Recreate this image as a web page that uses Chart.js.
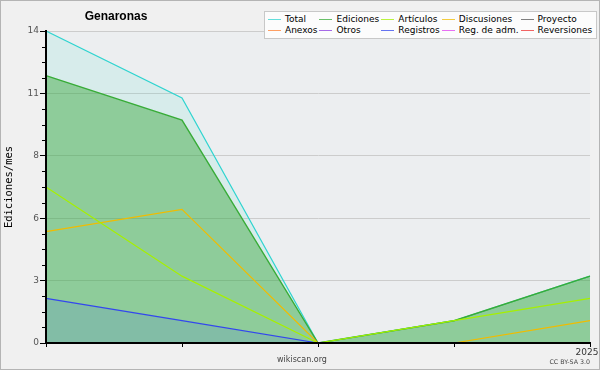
<!DOCTYPE html>
<html><head><meta charset="utf-8">
<script src="https://cdn.jsdelivr.net/npm/chart.js@4.4.1/dist/chart.umd.min.js"></script>
<style>
html,body{margin:0;padding:0;background:#f0f0f0;}
#wrap{position:relative;width:600px;height:370px;background:#f0f0f0;border:1px solid #b4b4b4;box-sizing:border-box;overflow:hidden;}
#c{position:absolute;left:-1px;top:-1px;}
#title{position:absolute;left:65px;top:8px;width:100px;text-align:center;font:bold 12px "Liberation Sans",Arial,sans-serif;line-height:14px;color:#000;}
#legend{position:absolute;left:263px;top:10px;background:#fcfcfc;border:1px solid #c8c8c8;padding:2px 3px 3px 2px;}
#legend table{border-collapse:collapse;}
#legend td{padding:0 1px 0 0;font:9px "DejaVu Sans",sans-serif;line-height:10.5px;color:#000;white-space:nowrap;}
#legend .sw{display:inline-block;width:13px;height:1px;vertical-align:middle;margin:0 4px 0 1px;opacity:0.75;}
#site{position:absolute;left:251px;top:354px;width:100px;text-align:center;font:8px "DejaVu Sans",sans-serif;line-height:10px;color:#444;}
#lic{position:absolute;left:489px;top:357px;width:100px;text-align:right;font:6.3px "DejaVu Sans",sans-serif;line-height:8px;color:#444;}
</style>
</head><body>
<div id="wrap">
<canvas id="c" width="600" height="370"></canvas>
<div id="title">Genaronas</div>
<div id="legend"></div>
<div id="site">wikiscan.org</div>
<div id="lic">CC BY-SA 3.0</div>
</div>
<script>
const categories = ['2024-09','2024-10','2024-11','2024-12','2025-01'];
const xTickLabels = ['','','','','2025'];
const yTicks = [0, 2.8, 5.6, 8.4, 11.2, 14];
const yTickLabels = ['0','3','6','8','11','14'];

const seriesNames = ['Total','Ediciones','Artículos','Discusiones','Proyecto','Anexos','Otros','Registros','Reg. de adm.','Reversiones'];
const total       = [14, 11, 0, 1, 3];
const ediciones   = [12, 10, 0, 1, 3];
const articulos   = [7, 3, 0, 1, 2];
const discusiones = [5, 6, 0, 0, 1];
const proyecto    = [0, 0, 0, 0, 0];
const anexos      = [0, 0, 0, 0, 0];
const otros       = [0, 0, 0, 0, 0];
const registros   = [2, 1, 0, 0, 0];
const regAdm      = [0, 0, 0, 0, 0];
const reversiones = [0, 0, 0, 0, 0];

const seriesData = [total, ediciones, articulos, discusiones, proyecto, anexos, otros, registros, regAdm, reversiones];
const lineColors = ['#30d4d0','#38ac38','#a6f000','#f0bc00','#555555','#ff8030','#8a3ae0','#3347ee','#e040f0','#ee3030'];
const fills = {
  0: 'rgba(64,224,208,0.12)',
  1: 'rgba(50,165,50,0.44)',
  7: 'rgba(50,80,255,0.12)'
};
const orders = {0: 10, 1: 9};

const datasets = seriesNames.map((name, i) => ({
  label: name,
  data: seriesData[i],
  borderColor: lineColors[i],
  backgroundColor: fills[i] || 'transparent',
  fill: fills[i] ? 'origin' : false,
  borderWidth: i === 1 ? 1.4 : 1.2,
  pointRadius: 0,
  pointHoverRadius: 0,
  tension: 0,
  order: orders[i] || 0
}));

(function(){
  let html = '<table>';
  for (let r = 0; r < 2; r++) {
    html += '<tr>';
    for (let c = 0; c < 5; c++) {
      const i = r * 5 + c;
      html += '<td><span class="sw" style="background-color:' + lineColors[i] + '"></span>' + seriesNames[i] + '</td>';
    }
    html += '</tr>';
  }
  html += '</table>';
  document.getElementById('legend').innerHTML = html;
})();

const bgPlugin = {
  id: 'plotBg',
  beforeDraw(chart) {
    const {ctx, chartArea: a} = chart;
    ctx.save();
    ctx.fillStyle = '#eceef0';
    ctx.fillRect(a.left, a.top, a.right - a.left, a.bottom - a.top);
    ctx.restore();
  }
};

const axesOnTop = {
  id: 'axesOnTop',
  afterDatasetsDraw(chart) {
    const {ctx, chartArea: a, scales} = chart;
    const y = scales.y;
    ctx.save();
    ctx.strokeStyle = '#000';
    ctx.lineWidth = 2;
    ctx.beginPath();
    ctx.moveTo(a.left - 1, a.bottom);
    ctx.lineTo(a.right + 0.5, a.bottom);
    ctx.moveTo(a.left, a.top);
    ctx.lineTo(a.left, a.bottom);
    ctx.stroke();
    ctx.lineWidth = 1;
    ctx.beginPath();
    for (let i = 0; i < yTicks.length - 1; i++) {
      for (let k = 1; k < 4; k++) {
        const v = yTicks[i] + (yTicks[i + 1] - yTicks[i]) * k / 4;
        const py = Math.round(y.getPixelForValue(v)) + 0.5;
        ctx.moveTo(a.left - 4, py);
        ctx.lineTo(a.left, py);
      }
    }
    ctx.stroke();
    ctx.restore();
  }
};

new Chart(document.getElementById('c'), {
  type: 'line',
  data: { labels: categories, datasets },
  plugins: [bgPlugin, axesOnTop],
  options: {
    responsive: false,
    animation: false,
    devicePixelRatio: 1,
    layout: { padding: { top: 31, right: 10, bottom: 0, left: 0 } },
    plugins: { legend: { display: false }, tooltip: { enabled: false }, title: { display: false } },
    elements: { line: { borderJoinStyle: 'miter' } },
    scales: {
      x: {
        type: 'category',
        offset: false,
        grid: { display: true, drawOnChartArea: false, drawTicks: true, tickLength: 4, tickColor: '#000', tickWidth: 1 },
        border: { display: true, color: '#000', width: 2 },
        ticks: {
          autoSkip: false, maxRotation: 0, padding: 0, labelOffset: -3,
          color: '#333',
          font: { family: 'DejaVu Sans', size: 9 },
          callback: (v, i) => xTickLabels[i]
        },
        afterFit(s) { s.height = 27; s.paddingLeft = 0; s.paddingRight = 0; }
      },
      y: {
        min: 0, max: 14,
        afterBuildTicks(s) { s.ticks = yTicks.map(v => ({ value: v })); },
        grid: { color: '#cccccc', lineWidth: 1, tickColor: '#000', tickLength: 6, drawTicks: true },
        border: { display: true, color: '#000', width: 2 },
        ticks: {
          autoSkip: false, padding: 1,
          color: '#555',
          font: { family: 'DejaVu Sans', size: 9 },
          callback: (v, i) => yTickLabels[i]
        },
        title: {
          display: true, text: 'Ediciones/mes', color: '#000',
          font: { family: 'DejaVu Sans Mono', size: 10.5 },
          padding: { top: 3, bottom: 0 }
        },
        afterFit(s) { s.width = 46; s.paddingTop = 0; s.paddingBottom = 0; }
      }
    }
  }
});
</script>
</body></html>
